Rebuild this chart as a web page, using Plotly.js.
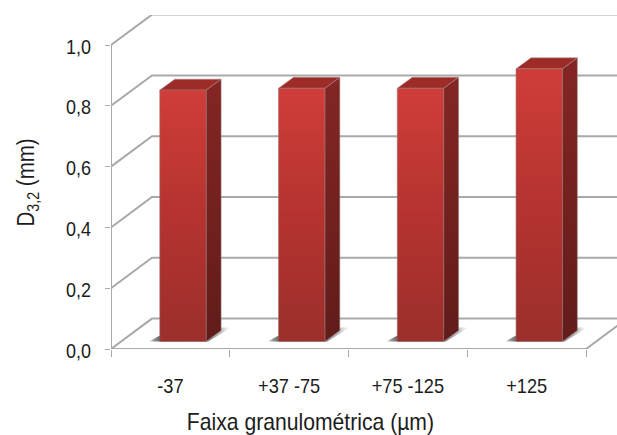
<!DOCTYPE html>
<html>
<head>
<meta charset="utf-8">
<script src="https://cdn.plot.ly/plotly-3.0.1.min.js"></script>
<style>html,body{margin:0;padding:0;background:#fff}#chart{width:617px;height:435px}</style>
</head>
<body>
<div id="chart"></div>
<script>
// Mean diameter D3,2 per particle size range
const categories = ['-37', '+37 -75', '+75 -125', '+125'];
const values = [0.827, 0.833, 0.833, 0.897];
const gridValues = [0, 0.2, 0.4, 0.6, 0.8, 1.0];
const gridLabels = ['0,0', '0,2', '0,4', '0,6', '0,8', '1,0'];

// Oblique projection, in axis units
const wallDx = 0.345, wallDy = 0.1;     // back wall offset
const floorDx = 0.106, floorDy = 0.0247; // where a bar sits on the floor
const barW = 0.39;                       // front face width
const barDx = 0.126, barDy = 0.036;      // bar depth
const n = categories.length;

const fontFamily = '"Liberation Sans", Arial, sans-serif';
const textColor = '#1c1c1c';
const gridColor = '#a9a9a9';
const base = {type: 'scatter', mode: 'lines', hoverinfo: 'skip', showlegend: false, cliponaxis: false};

function poly(pts, extra) {
  return Object.assign({}, base, {
    x: pts.map(p => p[0]).concat(pts[0][0]),
    y: pts.map(p => p[1]).concat(pts[0][1]),
    fill: 'toself'
  }, extra);
}
function gradient(type, stops) {
  return {type: type, colorscale: stops};
}

const traces = [];

// Walls and floor: gridlines on the back wall and their returns on the side wall
const gx = [], gy = [];
gridValues.forEach(v => {
  gx.push(0, wallDx, n + wallDx, null);
  gy.push(v, v + wallDy, v + wallDy, null);
});
gx.push(0, 0, null, 0, n, n + wallDx, null);
gy.push(0, 1, null, 0, 0, wallDy, null);
traces.push(Object.assign({}, base, {x: gx, y: gy, line: {color: gridColor, width: 2}}));

values.forEach((v, i) => {
  const left = i + 0.5 + floorDx - barW / 2;
  const right = left + barW;
  const b = floorDy;
  const t = v + floorDy;

  // Soft shadow cast on the floor
  traces.push(poly([
    [left - 0.095, b], [right + 0.02, b], [right + 0.21, b + 0.046], [left + 0.13, b + 0.046]
  ], {
    line: {width: 0},
    fillcolor: 'rgba(0,0,0,0)',
    fillgradient: gradient('horizontal', [
      [0, 'rgba(80,80,80,0)'], [0.06, 'rgba(80,80,80,0.55)'], [0.14, 'rgba(80,80,80,0.9)'],
      [0.7, 'rgba(110,110,110,0.85)'], [0.88, 'rgba(150,150,150,0.6)'], [1, 'rgba(200,200,200,0)']
    ])
  }));

  // Right side face
  traces.push(poly([
    [right, b], [right + barDx, b + barDy], [right + barDx, t + barDy], [right, t]
  ], {
    line: {width: 1, color: 'rgba(150,130,130,0.55)'},
    fillcolor: 'rgba(0,0,0,0)',
    fillgradient: gradient('vertical', [[0, '#611c1a'], [1, '#842623']])
  }));

  // Top face
  traces.push(poly([
    [left, t], [right, t], [right + barDx, t + barDy], [left + barDx, t + barDy]
  ], {
    line: {width: 1, color: 'rgba(170,140,140,0.55)'},
    fillcolor: '#9d2b28'
  }));

  // Front face
  traces.push(poly([
    [left, b], [right, b], [right, t], [left, t]
  ], {
    line: {width: 1, color: 'rgba(150,110,110,0.6)'},
    fillcolor: 'rgba(0,0,0,0)',
    fillgradient: gradient('vertical', [[0, '#9b2f2c'], [0.5, '#b5332f'], [1, '#cf3d39']])
  }));
});

const layout = {
  width: 617,
  height: 435,
  margin: {l: 111, r: 0, t: 15, b: 86},
  paper_bgcolor: '#fff',
  plot_bgcolor: '#fff',
  font: {family: fontFamily, size: 20, color: textColor},
  showlegend: false,
  xaxis: {
    range: [0, 506 / 118.75],
    showgrid: false,
    zeroline: false,
    showline: false,
    tickmode: 'array',
    tickvals: categories.map((c, i) => i + 0.5),
    ticktext: categories,
    ticks: '',
    ticklabelstandoff: 23,
    tickfont: {family: fontFamily, size: 20, color: textColor},
    minor: {tick0: 0, dtick: 1, ticks: 'outside', ticklen: 7, tickwidth: 1, tickcolor: gridColor, showgrid: false}
  },
  yaxis: {
    range: [0, 334 / 304],
    showgrid: false,
    zeroline: false,
    showline: false,
    tickmode: 'array',
    tickvals: gridValues,
    ticktext: gridLabels,
    ticks: 'outside',
    ticklen: 5,
    tickwidth: 1,
    tickcolor: gridColor,
    ticklabelstandoff: 10,
    tickfont: {family: fontFamily, size: 20, color: textColor}
  },
  annotations: [
    {
      text: 'Faixa granulométrica (µm)',
      xref: 'paper', yref: 'paper',
      x: (310 - 111) / 506, y: 0, yshift: -73,
      xanchor: 'center', yanchor: 'middle',
      showarrow: false,
      font: {family: fontFamily, size: 23, color: textColor}
    },
    {
      text: 'D<sub>3,2</sub> (mm)',
      xref: 'paper', yref: 'paper',
      x: 0, xshift: -84,
      y: (349 - 183) / 334,
      xanchor: 'center', yanchor: 'middle',
      textangle: -90,
      showarrow: false,
      font: {family: fontFamily, size: 23, color: textColor}
    }
  ]
};

// The labels are set in a narrow cut: squeeze each text along its own baseline
function narrow(el, k, anchor, dy) {
  const box = el.getBBox();
  const px = anchor === 'end' ? box.x + box.width : box.x + box.width / 2;
  const prev = el.getAttribute('transform') || '';
  el.setAttribute('transform', prev + ` translate(${px},${dy || 0}) scale(${k},1) translate(${-px},0)`);
}

Plotly.newPlot('chart', traces, layout, {displayModeBar: false, staticPlot: true}).then(gd => {
  gd.querySelectorAll('.ytick text').forEach(t => narrow(t, 0.9, 'end', 1.5));
  gd.querySelectorAll('.xtick text').forEach(t => narrow(t, 0.91, 'middle'));
  gd.querySelectorAll('.annotation-text').forEach(t => {
    narrow(t, t.textContent.startsWith('Faixa') ? 0.92 : 0.89, 'middle');
  });
});
</script>
</body>
</html>
